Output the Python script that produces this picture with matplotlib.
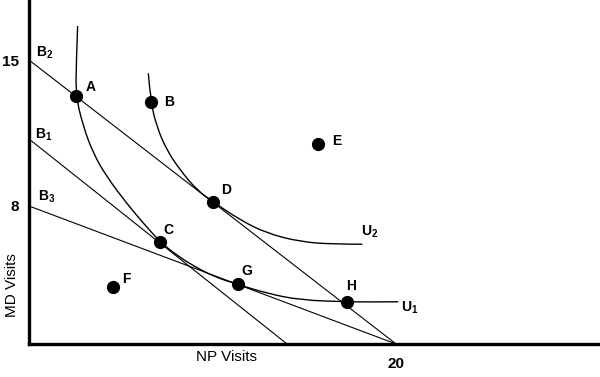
import numpy as np
import matplotlib
matplotlib.use("Agg")
import matplotlib.pyplot as plt
from matplotlib.path import Path
from matplotlib.patches import PathPatch

plt.rcParams['font.family'] = ['Liberation Sans', 'DejaVu Sans']
plt.rcParams['mathtext.fontset'] = 'custom'
plt.rcParams['mathtext.rm'] = 'Liberation Sans:bold'
plt.rcParams['mathtext.bf'] = 'Liberation Sans:bold'

# budget lines: (MD intercept, NP intercept)
b2 = (15.0, 20.0)
b1 = (10.83, 14.06)
b3 = (7.29, 20.0)

# indifference curve U1 (NP, MD)
u1_x = [2.65, 2.58, 2.55, 2.96, 3.50, 4.23, 5.32, 6.23, 7.14, 7.96, 9.05, 10.14,
        11.36, 12.95, 14.77, 17.30, 18.69, 20.12]
u1_y = [16.80, 15.00, 13.10, 11.48, 10.07, 8.84, 7.43, 6.38, 5.40, 4.75, 4.07, 3.54,
        3.15, 2.68, 2.32, 2.23, 2.22, 2.23]

# indifference curve U2
u2_x = [6.50, 6.63, 6.96, 7.50, 8.23, 9.14, 10.01, 11.50, 12.95, 14.77, 16.58, 18.16]
u2_y = [14.30, 12.80, 11.48, 10.25, 9.19, 8.14, 7.52, 6.55, 5.85, 5.40, 5.27, 5.27]

# labelled bundles
pt_names = ['A', 'B', 'C', 'D', 'E', 'F', 'G', 'H']
pt_x = [2.55, 6.63, 7.14, 10.01, 15.75, 4.59, 11.36, 17.30]
pt_y = [13.10, 12.80, 5.40, 7.52, 10.57, 3.00, 3.15, 2.23]
lbl_x = [3.36, 7.65, 7.59, 10.74, 16.78, 5.32, 11.86, 17.53]
lbl_y = [13.59, 12.80, 6.02, 8.14, 10.72, 3.42, 3.87, 3.06]


def smooth_path(xs, ys):
    # read points used as quadratic bezier controls so the curve is drawn smooth
    pts = list(zip(xs, ys))
    verts = [pts[0]]
    codes = [Path.MOVETO]
    for i in range(1, len(pts) - 2):
        mid = ((pts[i][0] + pts[i + 1][0]) / 2, (pts[i][1] + pts[i + 1][1]) / 2)
        verts += [pts[i], mid]
        codes += [Path.CURVE3, Path.CURVE3]
    verts += [pts[-2], pts[-1]]
    codes += [Path.CURVE3, Path.CURVE3]
    return Path(verts, codes)


fig = plt.figure(figsize=(6, 3.77), dpi=100)
ax = fig.add_axes([29 / 600, 33 / 377, 569 / 600, 344 / 377])
ax.set_xlim(0, 31.0)
ax.set_ylim(0, 18.17)

for md, np_ in (b2, b1, b3):
    ax.plot([0, np_], [md, 0], color='black', lw=0.8)

for xs, ys in ((u1_x, u1_y), (u2_x, u2_y)):
    ax.add_patch(PathPatch(smooth_path(xs, ys), fill=False, edgecolor='black', lw=1.0))

ax.plot(pt_x, pt_y, 'o', color='black', ms=8.5, zorder=5)
for n, x, y in zip(pt_names, lbl_x, lbl_y):
    ax.text(x, y, n, fontsize=10, fontweight='bold', ha='center', va='center')

sub_kw = dict(fontsize=10, fontweight='bold', ha='center', va='center')
ax.text(0.87, 15.37, r'B$_\mathrm{2}$', **sub_kw)
ax.text(0.78, 11.04, r'B$_\mathrm{1}$', **sub_kw)
ax.text(0.96, 7.78, r'B$_\mathrm{3}$', **sub_kw)
ax.text(18.58, 5.93, r'U$_\mathrm{2}$', **sub_kw)
ax.text(20.76, 1.89, r'U$_\mathrm{1}$', **sub_kw)

for s in ('top', 'right'):
    ax.spines[s].set_visible(False)
for s in ('left', 'bottom'):
    ax.spines[s].set_linewidth(2.4)

ax.set_xticks([b2[1]])
ax.set_xticklabels(['20'], fontsize=11, fontweight='bold')
ax.set_yticks([b2[0], b3[0]])
ax.set_yticklabels(['15', '8'], fontsize=11, fontweight='bold')
ax.tick_params(length=0)
ax.tick_params(axis='x', pad=9)
ax.tick_params(axis='y', pad=7)

ax.text(0.347, -0.039, 'NP Visits', fontsize=11, ha='center', va='center',
        transform=ax.transAxes)
ax.text(-0.030, 0.1715, 'MD Visits', fontsize=11, ha='center', va='center',
        rotation=90, transform=ax.transAxes)

fig.savefig('out.png', dpi=100)
